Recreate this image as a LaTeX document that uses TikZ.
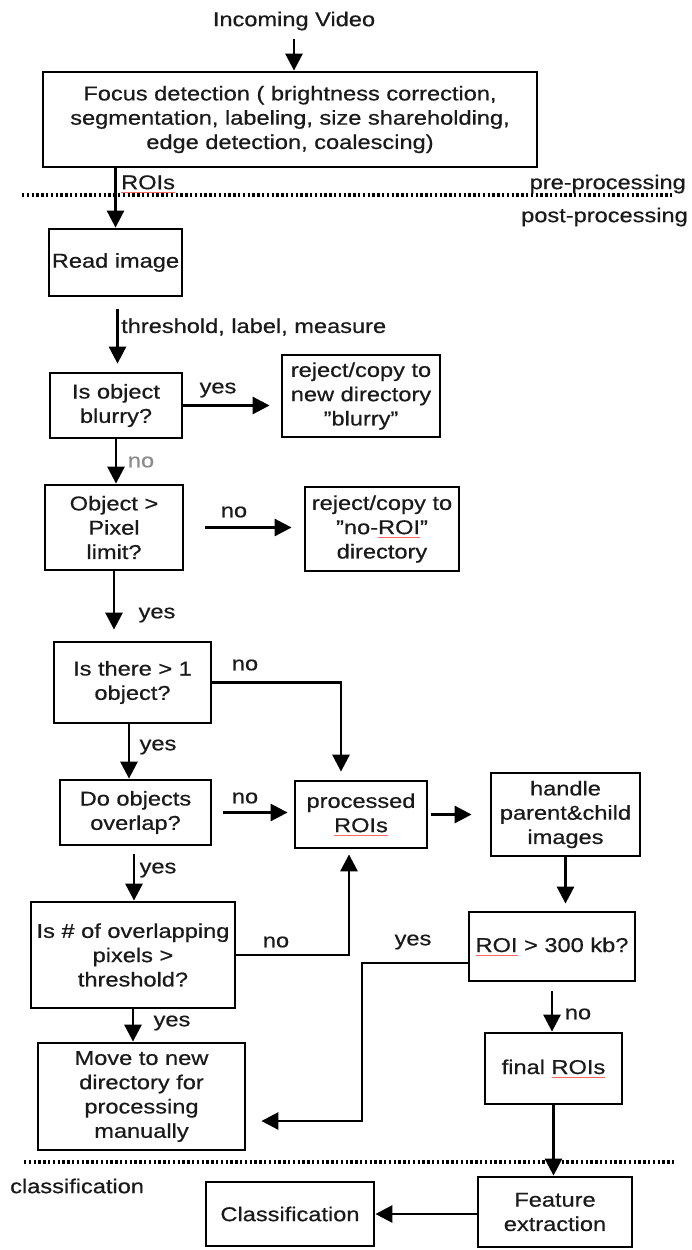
\documentclass[tikz,border=0pt]{standalone}
\usepackage{fontspec}
\setmainfont{Liberation Sans}[FakeStretch=1.18,FakeBold=0.6]
\usetikzlibrary{arrows.meta}
\newsavebox\sqbox
\newcommand\spellsq[1]{\sbox\sqbox{#1}\rlap{\textcolor{red!60}{\rule[-3.5bp]{\wd\sqbox}{0.9bp}}}\usebox\sqbox}
\newcommand\dq{\symbol{"22}}
\definecolor{txt}{HTML}{1A1A1A}
\begin{document}
\begin{tikzpicture}[x=1bp,y=-1bp,
  font=\fontsize{20bp}{24.3bp}\selectfont,
  box/.style={draw, line width=2.8bp, align=center, inner sep=0pt, text=txt},
  lbl/.style={inner sep=0pt, text=txt},
  conn/.style={line width=2.8bp, -{Triangle[length=17bp,width=17bp]}},
  sep/.style={line width=3.2bp, dash pattern=on 2.4bp off 2.4bp}]
\useasboundingbox[fill=white] (0,0) rectangle (692,1250);

% separators
\draw[sep] (22,195) -- (673,195);
\draw[sep] (24,1162) -- (675,1162);
\node[lbl, anchor=east] (pre) at (686,184) {pre-processing};
\node[lbl, anchor=east] (post) at (688,217) {post-processing};
\node[lbl, anchor=west] (cls) at (10,1186) {classification};

% nodes
\node[lbl] (incoming) at (294,21) {Incoming Video};
\node[box, minimum width=494bp, minimum height=95bp] (focus) at (290,119.5)
  {Focus detection ( brightness correction,\\segmentation, labeling, size shareholding,\\edge detection, coalescing)};
\node[box, minimum width=133bp, minimum height=67bp] (read) at (115.5,262.5) {Read image};
\node[box, minimum width=132bp, minimum height=65bp] (blurry) at (116,405.5) {Is object\\blurry?};
\node[box, minimum width=158bp, minimum height=82bp] (rejblur) at (361,396) {reject/copy to\\new directory\\\dq blurry\dq};
\node[box, minimum width=138bp, minimum height=85bp] (pixel) at (114,527.5) {Object >\\Pixel\\limit?};
\node[box, minimum width=154bp, minimum height=84bp] (rejroi) at (382,529) {reject/copy to\\\dq no-\spellsq{ROI}\dq\\directory};
\node[box, minimum width=157bp, minimum height=81bp] (multi) at (132.5,682.5) {Is there > 1\\object?};
\node[box, minimum width=151bp, minimum height=65bp] (overlap) at (135.5,812.5) {Do objects\\overlap?};
\node[box, minimum width=132bp, minimum height=67bp] (processed) at (361,814.5) {processed\\\spellsq{ROIs}};
\node[box, minimum width=149bp, minimum height=83bp] (handle) at (565.5,814.5) {handle\\parent\&child\\images};
\node[box, minimum width=204bp, minimum height=106bp] (thresh) at (133,955) {Is \# of overlapping\\pixels >\\threshold?};
\node[box, minimum width=166bp, minimum height=69bp] (roi300) at (552,946.5) {\spellsq{ROI} > 300 kb?};
\node[box, minimum width=207bp, minimum height=107bp] (move) at (141.5,1096.5) {Move to new\\directory for\\processing\\manually};
\node[box, minimum width=137bp, minimum height=71bp] (final) at (553.5,1068.5) {final \spellsq{ROIs}};
\node[box, minimum width=154bp, minimum height=70bp] (feature) at (555,1212) {Feature\\extraction};
\node[box, minimum width=168bp, minimum height=64bp] (classif) at (290,1214) {Classification};

\coordinate (c3) at (362,1121);

% connectors
\draw[conn, shorten <=8bp] (incoming.south) -- (incoming.south |- focus.north);
\draw[conn] (focus.south -| read.north) -- (read.north);
\draw[conn, shorten <=12bp, shorten >=8bp] ([xshift=2bp]read.south) -- ([xshift=2bp]read.south |- blurry.north);
\draw[conn, shorten >=11bp] (blurry.east) -- (blurry.east -| rejblur.west);
\draw[conn] (blurry.south) -- (blurry.south |- pixel.north);
\draw[conn, shorten <=21bp, shorten >=12bp] (pixel.east) -- (pixel.east -| rejroi.west);
\draw[conn, shorten >=11bp] (pixel.south) -- (pixel.south |- multi.north);
\draw[conn, shorten >=8bp] (multi.east) -| ([xshift=-20bp]processed.north);
\draw[conn] ([xshift=-3.5bp]multi.south) -- ([xshift=-3.5bp]multi.south |- overlap.north);
\draw[conn, shorten <=11bp, shorten >=6bp] (overlap.east) -- (overlap.east -| processed.west);
\draw[conn, shorten <=8bp] ([xshift=-1.5bp]overlap.south) -- ([xshift=-1.5bp]overlap.south |- thresh.north);
\draw[conn, shorten >=5bp] (thresh.east) -| ([xshift=-12bp]processed.south);
\draw[conn] (thresh.south) -- (thresh.south |- move.north);
\draw[conn, shorten <=3bp, shorten >=18bp] (processed.east) -- (processed.east -| handle.west);
\draw[conn, shorten >=7bp] (handle.south) -- (handle.south |- roi300.north);
\draw[conn, shorten >=15bp] ([yshift=-16.5bp]roi300.west) -| (c3) -- (c3 -| move.east);
\draw[conn, shorten <=9bp] (roi300.south) -- (roi300.south |- final.north);
\draw[conn] (final.south) -- (final.south |- feature.north);
\draw[conn] (classif.east -| feature.west) -- (classif.east);

% labels
\node[lbl, anchor=west] (lroi) at (121,184) {\spellsq{ROIs}};
\node[lbl, anchor=west] (lthr) at (121,327) {threshold, label, measure};
\node[lbl] (y1) at (218,390) {yes};
\node[lbl, text=black!45] (n1) at (141,462) {no};
\node[lbl] (n2) at (234,512) {no};
\node[lbl] (y2) at (157,615) {yes};
\node[lbl] (n3) at (245,665) {no};
\node[lbl] (y3) at (158,747) {yes};
\node[lbl] (n4) at (245,798) {no};
\node[lbl] (y4) at (158,870) {yes};
\node[lbl] (n5) at (276,942) {no};
\node[lbl] (y5) at (413,942) {yes};
\node[lbl] (y6) at (172,1023) {yes};
\node[lbl] (n6) at (578,1014) {no};
\end{tikzpicture}
\end{document}
